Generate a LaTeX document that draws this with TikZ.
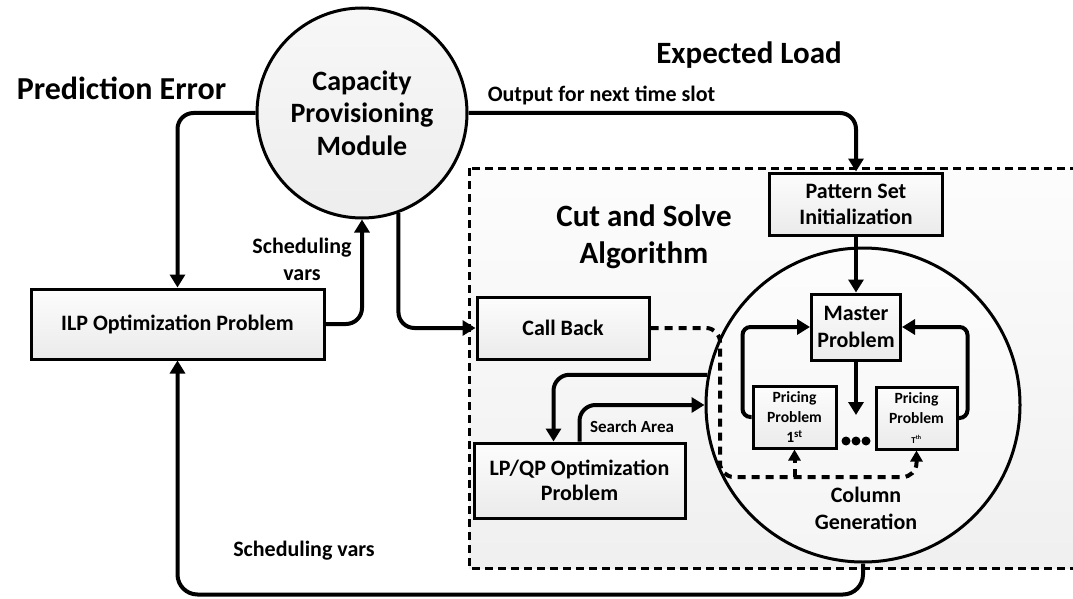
\documentclass[tikz,border=0pt]{standalone}
\usepackage{fontspec}
\setmainfont{Carlito}
\usetikzlibrary{arrows.meta,calc}
\newcommand\myfs[2]{\fontsize{#1}{#2}\selectfont}
\begin{document}
\begin{tikzpicture}[x=1pt,y=-1pt,
  box/.style={draw, line width=3pt, top color=gray!2, bottom color=gray!16, inner sep=0pt, align=center},
  conn/.style={line width=4pt, rounded corners=16pt, -{Triangle[length=13pt,width=15pt]}},
  dconn/.style={line width=4pt, dash pattern=on 8pt off 6pt, rounded corners=14pt, -{Triangle[length=11pt,width=12pt]}},
  lbl/.style={font=\bfseries\myfs{22}{27}, align=center, inner sep=0pt},
  ]
\useasboundingbox (0,0) rectangle (1073,599);
% dashed region
\path[draw, dash pattern=on 8pt off 5pt, line width=3pt, top color=gray!2, bottom color=gray!12] (469,168) rectangle (1095,568);

% main circle
\node[circle, draw, line width=3pt, top color=gray!6, bottom color=gray!14, minimum size=210pt, inner sep=0pt, align=center, font=\bfseries\myfs{28}{32.5}] (cap) at (362,113) {Capacity\\Provisioning\\Module};

\node[font=\bfseries\myfs{32}{38}, inner sep=0pt] (pred) at (121.5,88) {Prediction Error};
\node[font=\bfseries\myfs{31}{37}, inner sep=0pt] (expl) at (749,55) {Expected Load};
\node[lbl] (outl) at (601.5,95) {Output for next time slot};

\node[box, minimum width=293pt, minimum height=70pt, font=\bfseries\myfs{22}{27}] (ilp) at (177.5,324) {ILP Optimization Problem};
\node[box, minimum width=172pt, minimum height=62pt, font=\bfseries\myfs{22}{27}] (cb) at (563,328) {Call Back};
\node[box, minimum width=211pt, minimum height=75pt, font=\bfseries\myfs{22}{25}] (lp) at (579.5,480.5) {LP/QP Optimization\\Problem};
\node[box, minimum width=173pt, minimum height=62pt, font=\bfseries\myfs{22}{26}] (ps) at (856,204) {Pattern Set\\Initialization};

\node[font=\bfseries\myfs{31}{37}, align=center, inner sep=0pt] (csa) at (644,236.5) {Cut and Solve\\Algorithm};

% column generation circle
\node[circle, draw, line width=3pt, top color=gray!2, bottom color=gray!8, minimum size=314pt, inner sep=0pt] (cg) at (863,405) {};
\node[lbl] (cgl) at (866,508.5) {Column\\Generation};

\node[box, minimum width=89pt, minimum height=66pt, font=\bfseries\myfs{22}{27}] (ms) at (856,327) {Master\\Problem};
\node[box, minimum width=83pt, minimum height=62pt, font=\bfseries\myfs{15.6}{20}] (p1) at (794.5,417) {Pricing\\Problem\\1\textsuperscript{st}};
\node[box, minimum width=81pt, minimum height=62pt, font=\bfseries\myfs{15.6}{20}] (pt) at (916.5,418) {Pricing\\Problem\\{\myfs{9}{10}T\textsuperscript{th}}};

\foreach \i/\xx in {1/846,2/856,3/866}
  \node[circle, fill, inner sep=0pt, minimum size=9pt] (d\i) at (\xx,441) {};

% labels
\node[lbl] (sv1) at (302,259.5) {Scheduling\\vars};
\node[lbl] (sv2) at (304,551) {Scheduling vars};
\node[font=\bfseries\myfs{17}{20}, inner sep=0pt] (sa) at (632,427) {Search Area};

\coordinate (mstip) at (856,415);
\coordinate (dc) at (720,477);

% connectors
\draw[conn] (cap.west) -| (ilp.north);
\draw[conn] (ilp.east) -| (cap.south);
\draw[conn] (cap.-70.5) |- (cb.west);
\draw[conn] (cap.east) -| (ps.north);
\draw[conn] (ps.south) -- (ms.north);
\draw[conn] (ms.south) -- (mstip);
\draw[conn, rounded corners=8pt] (p1.west) -- ++(-9,0) |- (ms.west);
\draw[conn, rounded corners=8pt] (pt.east) -- ++(9,0) |- (ms.east);
\draw[conn] (cg.169) -| ([xshift=-26pt]lp.north);
\draw[conn] (lp.north) |- (cg.west);
\draw[conn, rounded corners=20pt] (cg.south) -- ++(0,31) -| (ilp.south);

\draw[dconn] (cb.east) -- (dc |- cb.east) -- (dc) -| (pt.south);
\draw[dconn] (p1.south |- dc) -- (p1.south);
\end{tikzpicture}
\end{document}
